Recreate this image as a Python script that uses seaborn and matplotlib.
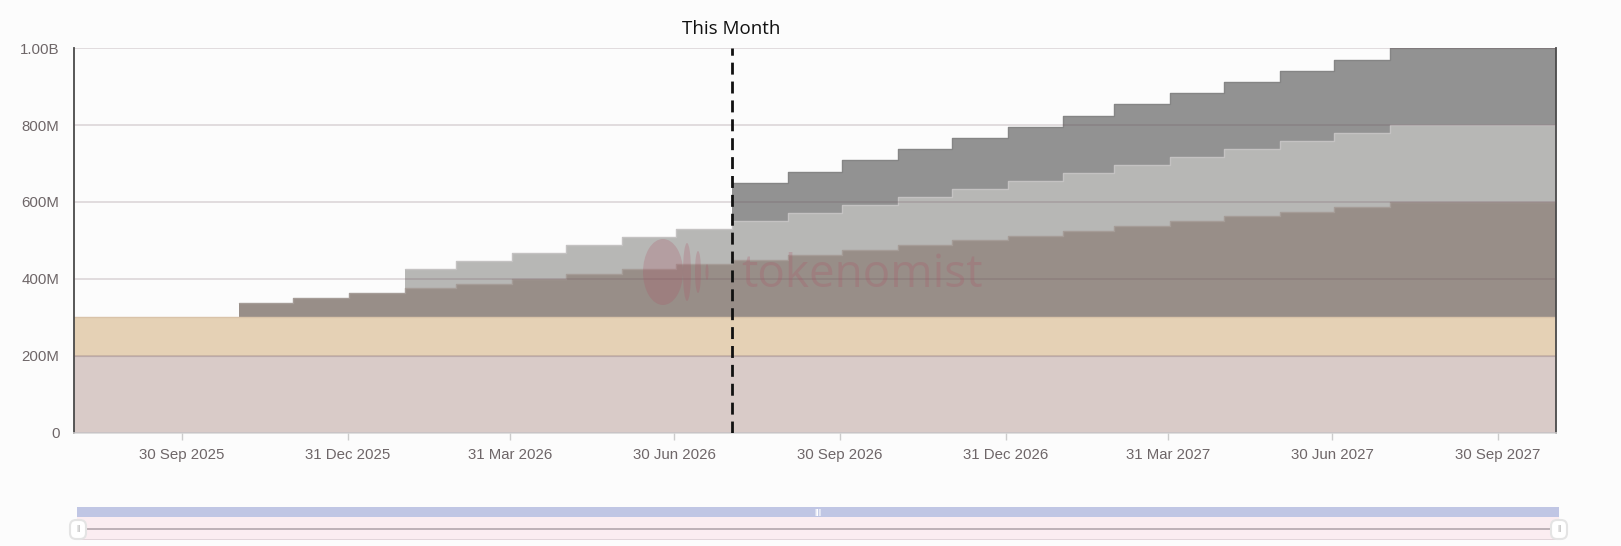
import matplotlib
matplotlib.use("Agg")
import matplotlib.pyplot as plt
from matplotlib.patches import Ellipse, Rectangle, FancyBboxPatch
from matplotlib.ticker import FixedLocator
import numpy as np
import pandas as pd
import seaborn as sns

# ---------------- data (values in millions of tokens) ----------------
months = ["2025-08-01", "2025-09-01", "2025-10-01", "2025-11-01", "2025-12-01",
          "2026-01-01", "2026-02-01", "2026-03-01", "2026-04-01", "2026-05-01",
          "2026-06-01", "2026-07-01", "2026-08-01", "2026-09-01", "2026-10-01",
          "2026-11-01", "2026-12-01", "2027-01-01", "2027-02-01", "2027-03-01",
          "2027-04-01", "2027-05-01", "2027-06-01", "2027-07-01", "2027-08-01",
          "2027-09-01", "2027-10-01", "2027-11-01"]

layer_a = [200] * 28                       # bottom, pinkish
layer_b = [100] * 28                       # tan
layer_c = [0, 0, 0, 37.5, 50, 62.5, 75, 87.5, 100, 112.5, 125, 137.5, 150,
           162.5, 175, 187.5, 200, 212.5, 225, 237.5, 250, 262.5, 275, 287.5,
           300, 300, 300, 300]             # brown-grey
layer_d = [0, 0, 0, 0, 0, 0, 50, 58.33, 66.67, 75, 83.33, 91.67, 100, 108.33,
           116.67, 125, 133.33, 141.67, 150, 158.33, 166.67, 175, 183.33,
           191.67, 200, 200, 200, 200]     # light grey
layer_e = [0, 0, 0, 0, 0, 0, 0, 0, 0, 0, 0, 0, 100, 108.33, 116.67, 125,
           133.33, 141.67, 150, 158.33, 166.67, 175, 183.33, 191.67, 200,
           200, 200, 200]                  # dark grey

layer_colors = ["#d9cbc8", "#e5d1b5", "#988e88", "#b7b7b5", "#929292"]
edge_colors = ["#cdbfbc", "#d9c3a9", "#a59c97", "#c4c2c2", "#858585"]

y_ticks = [0, 200, 400, 600, 800, 1000]
y_labels = ["0", "200M", "400M", "600M", "800M", "1.00B"]
x_ticks = ["2025-09-30", "2025-12-31", "2026-03-31", "2026-06-30",
           "2026-09-30", "2026-12-31", "2027-03-31", "2027-06-30", "2027-09-30"]
x_labels = ["30 Sep 2025", "31 Dec 2025", "31 Mar 2026", "30 Jun 2026",
            "30 Sep 2026", "31 Dec 2026", "31 Mar 2027", "30 Jun 2027",
            "30 Sep 2027"]
this_month = "2026-08-01"
x_start, x_end = "2025-08-01", "2027-11-01"

# ---------------- figure ----------------
sns.set_theme(style="white")
plt.rcParams["font.family"] = ["Liberation Sans", "DejaVu Sans"]
BG = "#fcfcfc"

W, H = 1621, 546
fig = plt.figure(figsize=(W / 100, H / 100), dpi=100, facecolor=BG)
ax = fig.add_axes([73.5 / W, 1 - 432.5 / H, (1555.7 - 73.5) / W, (432.5 - 48.3) / H])
ax.set_facecolor(BG)

dates = pd.to_datetime(months)
layers = [layer_a, layer_b, layer_c, layer_d, layer_e]
arr = np.array(layers, dtype=float)
tops = np.cumsum(arr, axis=0)
bottoms = tops - arr

for i in range(len(layers)):
    ax.fill_between(dates, bottoms[i], tops[i], step="post",
                    color=layer_colors[i], lw=0, zorder=1)
    top_line = np.where(arr[i] > 0, tops[i], np.nan)
    df = pd.DataFrame({"date": dates, "top": top_line}).dropna()
    sns.lineplot(data=df, x="date", y="top", ax=ax, color=edge_colors[i],
                 lw=1.0, drawstyle="steps-post", zorder=2, legend=False)

# axes / grid
ax.set_xlim(pd.Timestamp(x_start), pd.Timestamp(x_end))
ax.set_ylim(0, 1000)
ax.set_xlabel("")
ax.set_ylabel("")
ax.yaxis.set_major_locator(FixedLocator(y_ticks))
ax.set_yticklabels(y_labels)
ax.set_xticks(pd.to_datetime(x_ticks))
ax.set_xticklabels(x_labels)
ax.set_axisbelow(False)
ax.yaxis.grid(True, color="#6b4d57", alpha=0.2, lw=1.3, zorder=2.5)
ax.xaxis.grid(False)

tick_color = "#6e6668"
ax.tick_params(axis="y", length=0, pad=10, labelsize=10.8, labelcolor=tick_color)
ax.tick_params(axis="x", length=5, width=1, color="#cccccc", pad=6,
               labelsize=10.8, labelcolor=tick_color, bottom=True)

for s in ["left", "right"]:
    ax.spines[s].set_color("#4a4a4a")
    ax.spines[s].set_linewidth(1.3)
ax.spines["top"].set_visible(False)
ax.spines["bottom"].set_color("#d9d9d9")
ax.spines["bottom"].set_linewidth(1.2)

# "This Month" marker
tm = pd.Timestamp(this_month)
ax.axvline(tm, color="#111111", lw=2.0, dashes=(4.3, 2.5), zorder=6)
ax.text(tm, 1.050, "This Month", transform=ax.get_xaxis_transform(),
        ha="center", va="center", fontsize=13.5, color="#111111",
        family=["Open Sans", "DejaVu Sans"])

# watermark
wm = (172 / 255, 84 / 255, 102 / 255)
axw, axh = 1555.7 - 73.5, 432.5 - 48.3
def fx(px):
    return (px - 73.5) / axw
def fy(py):
    return (432.5 - py) / axh
for (cx, w, h) in [(663, 40, 66), (687, 8, 58), (698, 6, 42), (707, 3, 16)]:
    ax.add_patch(Ellipse((fx(cx), fy(272)), w / axw, h / axh,
                         transform=ax.transAxes, color=wm, alpha=0.25, lw=0,
                         zorder=3))
ax.text(fx(741), fy(287), "tokenomist", transform=ax.transAxes, ha="left",
        va="baseline", fontsize=33, color=wm, alpha=0.25, zorder=3,
        family=["Open Sans", "DejaVu Sans"])

# ---------------- range slider (decoration) ----------------
sx0, sx1, sy0, sy1 = 77, 1559, 507, 540
sax = fig.add_axes([sx0 / W, 1 - sy1 / H, (sx1 - sx0) / W, (sy1 - sy0) / H])
sax.set_xlim(0, 1)
sax.set_ylim(0, 1)
sax.axis("off")
sh = sy1 - sy0
blue_h = 10 / sh
sax.add_patch(Rectangle((0, 1 - blue_h), 1, blue_h, color="#c0c6e4", lw=0))
sax.add_patch(Rectangle((0, 0), 1, 1 - blue_h, color="#fbedf1", lw=0))
sax.add_patch(Rectangle((0, 0), 1, 1.5 / sh, color="#e2d5da", lw=0))
sax.plot([0, 1], [11 / sh, 11 / sh], color="#b4a7ad", lw=1.2)
sax.text(0.5, 1 - blue_h / 2, "|||", ha="center", va="center", color="white",
         fontsize=6, fontweight="bold")

# slider handles drawn in inch coordinates (pixel/100)
for hx0 in [70, 1551]:
    handle = FancyBboxPatch((hx0 / 100, (H - 539) / 100), 0.16, 0.19,
                            boxstyle="round,pad=0,rounding_size=0.06",
                            transform=fig.dpi_scale_trans, fc="white",
                            ec="#e4e4e4", lw=1.5, zorder=10)
    fig.add_artist(handle)
    fig.text((hx0 + 8) / W, 1 - 529 / H, "||", ha="center", va="center",
             color="#9a9a9a", fontsize=6, zorder=11)

fig.savefig("out.png", dpi=100, facecolor=BG)
